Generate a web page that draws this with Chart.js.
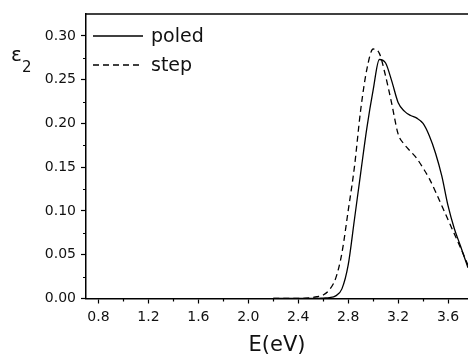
<!DOCTYPE html>
<html>
<head>
<meta charset="utf-8">
<script src="https://cdn.jsdelivr.net/npm/chart.js@4"></script>
<style>
  html, body { margin: 0; padding: 0; background: #fff; }
  #wrap { width: 468px; height: 355px; }
</style>
</head>
<body>
<div id="wrap"><canvas id="eps"></canvas></div>
<script>
// photon energy (eV) and imaginary dielectric function for both samples
const energy = [2.20, 2.30, 2.40, 2.50, 2.55, 2.60, 2.65, 2.70, 2.75, 2.80, 2.85, 2.90, 2.95, 3.00,
  3.05, 3.10, 3.15, 3.20, 3.25, 3.30, 3.35, 3.40, 3.45, 3.50, 3.55, 3.60, 3.65, 3.70, 3.76];
const poled = [0, 0, 0, 0, 0, 0.0005, 0.001, 0.003, 0.011, 0.038, 0.090, 0.143, 0.195, 0.238,
  0.273, 0.269, 0.248, 0.224, 0.214, 0.209, 0.206, 0.200, 0.186, 0.166, 0.140, 0.106, 0.080, 0.060, 0.035];
const step = [0, 0, 0, 0.001, 0.002, 0.004, 0.010, 0.023, 0.052, 0.100, 0.150, 0.215, 0.262, 0.285,
  0.280, 0.254, 0.222, 0.188, 0.176, 0.168, 0.160, 0.149, 0.137, 0.122, 0.106, 0.090, 0.074, 0.058, 0.038];

const xTicks = [0.8, 1.2, 1.6, 2.0, 2.4, 2.8, 3.2, 3.6];
const xMinor = [1.0, 1.4, 1.8, 2.2, 2.6, 3.0, 3.4];
const yTicks = [0.00, 0.05, 0.10, 0.15, 0.20, 0.25, 0.30];
const yMinor = [0.025, 0.075, 0.125, 0.175, 0.225, 0.275];

const FONT = "'DejaVu Sans', sans-serif";

function pts(ys) {
  return energy.map((e, i) => ({ x: e, y: ys[i] }));
}

// frame top line, minor ticks, inset legend and the epsilon_2 label
const decorations = {
  id: 'decorations',
  afterDraw(chart) {
    const ctx = chart.ctx;
    const a = chart.chartArea;
    const xs = chart.scales.x, ys = chart.scales.y;
    ctx.save();
    ctx.strokeStyle = '#000';
    ctx.lineWidth = 1.5;
    ctx.beginPath();
    ctx.moveTo(a.left, a.top);
    ctx.lineTo(a.right, a.top);
    ctx.stroke();

    ctx.lineWidth = 1.2;
    ctx.beginPath();
    xMinor.forEach(v => {
      const px = Math.round(xs.getPixelForValue(v)) + 0.5;
      ctx.moveTo(px, a.bottom);
      ctx.lineTo(px, a.bottom + 3);
    });
    yMinor.forEach(v => {
      const py = Math.round(ys.getPixelForValue(v)) + 0.5;
      ctx.moveTo(a.left, py);
      ctx.lineTo(a.left - 3, py);
    });
    ctx.stroke();

    // legend
    const rows = [36, 65];
    chart.data.datasets.forEach((ds, i) => {
      ctx.strokeStyle = ds.borderColor;
      ctx.lineWidth = ds.borderWidth;
      ctx.setLineDash(ds.borderDash || []);
      ctx.beginPath();
      ctx.moveTo(a.left + 7, rows[i]);
      ctx.lineTo(a.left + 57, rows[i]);
      ctx.stroke();
      ctx.setLineDash([]);
      ctx.fillStyle = '#111';
      ctx.font = '19px ' + FONT;
      ctx.textBaseline = 'middle';
      ctx.textAlign = 'left';
      ctx.fillText(ds.label, a.left + 65, rows[i] + 1);
    });

    // axis symbol
    ctx.fillStyle = '#111';
    ctx.textBaseline = 'alphabetic';
    ctx.font = '20px ' + FONT;
    ctx.fillText('\u03b5', 11, 61);
    ctx.font = '15px ' + FONT;
    ctx.fillText('2', 22, 72);
    ctx.restore();
  }
};

new Chart(document.getElementById('eps'), {
  type: 'line',
  data: {
    datasets: [{
      label: 'poled',
      data: pts(poled),
      borderColor: '#000',
      borderWidth: 1.3,
      pointRadius: 0,
      cubicInterpolationMode: 'monotone',
      fill: false
    }, {
      label: 'step',
      data: pts(step),
      borderColor: '#000',
      borderWidth: 1.3,
      borderDash: [6, 4],
      pointRadius: 0,
      cubicInterpolationMode: 'monotone',
      fill: false
    }]
  },
  options: {
    responsive: true,
    maintainAspectRatio: false,
    animation: false,
    layout: { padding: { top: 14, right: 0, left: 0, bottom: 0 } },
    plugins: {
      legend: { display: false },
      tooltip: { enabled: false }
    },
    scales: {
      x: {
        type: 'linear',
        min: 0.7,
        max: 3.76,
        afterBuildTicks: s => { s.ticks = xTicks.map(v => ({ value: v })); },
        afterFit: s => { s.height = 56.5; },
        ticks: {
          color: '#111',
          font: { family: FONT, size: 14 },
          padding: 5,
          maxRotation: 0,
          callback: v => v.toFixed(1)
        },
        grid: { drawOnChartArea: false, tickLength: 5, tickColor: '#000', tickWidth: 1.2 },
        border: { color: '#000', width: 1.5 },
        title: {
          display: true,
          text: 'E(eV)',
          color: '#111',
          font: { family: FONT, size: 21 },
          padding: { top: 4, bottom: -3 }
        }
      },
      y: {
        min: 0,
        max: 0.325,
        afterBuildTicks: s => { s.ticks = yTicks.map(v => ({ value: v })); },
        afterFit: s => { s.width = 86; },
        ticks: {
          color: '#111',
          font: { family: FONT, size: 14 },
          padding: 5,
          callback: v => v.toFixed(2)
        },
        grid: { drawOnChartArea: false, tickLength: 5, tickColor: '#000', tickWidth: 1.2 },
        border: { color: '#000', width: 1.5 }
      }
    }
  },
  plugins: [decorations]
});
</script>
</body>
</html>
